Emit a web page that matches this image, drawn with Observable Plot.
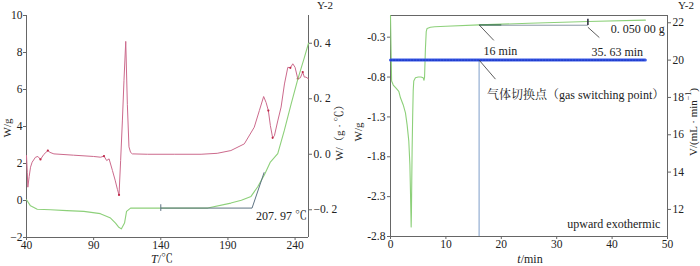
<!DOCTYPE html>
<html><head><meta charset="utf-8">
<script src="https://cdn.jsdelivr.net/npm/d3@7"></script>
<script src="https://cdn.jsdelivr.net/npm/@observablehq/plot@0.6"></script>
<style>
body{margin:0;background:#fff;}
#wrap{position:relative;width:700px;height:266px;overflow:hidden;background:#fff;}
#wrap svg{position:absolute;top:0;}
</style></head><body><div id="wrap"></div>
<script>
// ---------- Left panel data ----------
const leftXTicks = [40, 90, 140, 190, 240];
const leftYTicks = [-2, 0, 2, 4, 6, 8, 10];
const leftY2Ticks = [-0.2, 0.0, 0.2, 0.4];

const redT = [40, 40.6, 41, 42, 43, 44.2, 46.7, 48.5, 50.4, 52.9, 55.9, 57.5, 60.4, 75, 90, 95.2, 97.7, 99.7, 101.5, 104, 106, 107.7, 108.9, 110.1, 111.4, 112.6, 113.9, 115.1, 116.3, 117.5, 118.9, 130, 150, 170, 182, 192.2, 202.2, 209.6, 213.4, 216.6, 218.4, 220.1, 221.6, 223.3, 224.6, 227.1, 229.6, 232.1, 234.6, 236.5, 238.3, 240, 242, 243.9, 245.7, 246.9, 248.1, 249.9];
const redW = [2.43, 1.5, 0.72, 1.3, 1.8, 2.07, 2.34, 2.38, 2.22, 2.49, 2.7, 2.6, 2.52, 2.45, 2.38, 2.34, 2.4, 2.16, 2.25, 1.62, 1.1, 0.6, 0.3, 2.16, 4.3, 6.5, 8.6, 5.2, 2.9, 2.6, 2.52, 2.5, 2.5, 2.5, 2.55, 2.7, 3.06, 3.96, 4.86, 5.62, 5.3, 4.86, 4.05, 3.39, 3.5, 4.3, 5.05, 6.3, 7.2, 7.17, 7.39, 7.2, 6.58, 6.63, 6.94, 6.67, 6.67, 6.58];
const redDotT = [50.4, 55.9, 97.7, 108.9, 220.1, 223.3, 236.5, 242, 245.7];

const greenT = [40, 43, 48, 57.9, 70, 82.7, 95, 102.6, 106.3, 108.5, 110.6, 113, 114.5, 117.5, 140, 175, 192.2, 200, 207.2, 212.2, 217.1, 221.6, 227.1, 232, 237, 242, 246.9, 250];
const greenR = [-0.164, -0.186, -0.198, -0.2, -0.203, -0.206, -0.214, -0.23, -0.248, -0.262, -0.269, -0.248, -0.206, -0.194, -0.194, -0.194, -0.176, -0.166, -0.152, -0.117, -0.075, -0.028, 0.0025, 0.086, 0.18, 0.27, 0.348, 0.4];

const onsetStartT = 140, onsetT = 207.97, onsetLevel = -0.194;
const tangentEnd = {T: 217, R: -0.065};
const onsetLabel = "207. 97 ℃";

// ---------- Right panel data ----------
const rightXTicks = [0, 10, 20, 30, 40, 50];
const rightYTicks = [-0.3, -0.8, -1.3, -1.8, -2.3, -2.8];
const rightY2Ticks = [12, 14, 16, 18, 20, 22];

const massT = [0, 0.1, 0.2, 0.5, 1.0, 1.5, 1.8, 2.3, 2.7, 3.0, 3.3, 3.5, 3.6, 3.68, 3.73, 3.78, 3.84, 3.9, 4.0, 4.1, 4.2, 4.5, 5.0, 5.5, 5.9, 6.05, 6.15, 6.3, 6.45, 6.6, 7.2, 8, 10, 16, 25, 35.63, 46];
const massW = [-0.03, -0.45, -0.85, -0.9, -0.94, -0.98, -1.06, -1.15, -1.25, -1.4, -1.6, -1.9, -2.22, -2.5, -2.68, -2.5, -2.1, -1.72, -1.3, -0.97, -0.85, -0.81, -0.8, -0.8, -0.81, -0.84, -0.8, -0.45, -0.23, -0.19, -0.175, -0.17, -0.163, -0.146, -0.125, -0.104, -0.086];

const flowT = [0, 46];
const flowV = [20, 20];

const switchT = 16, endT = 35.63, baseW = -0.15;

// ---------- styling ----------
const FONT = '"Liberation Serif","Noto Serif CJK SC","Noto Sans CJK SC",serif';
const AX = "#666";
const GREEN = "#8dd07a";
const RED = "#cc6a8c";
const ANN = "#5d7282";
const TICKFS = 11.5;

const fmtSp = d => (d < 0 ? "−" : "") + Math.abs(d).toFixed(1).replace(".", ". ");
const fmtR = d => (d < 0 ? "-" : "") + Math.abs(d).toFixed(1);

const baseStyle = {fontFamily: FONT, fontSize: "11px", background: "transparent", color: "#222", overflow: "visible"};

// ===== Left panel, primary (W/g) =====
const LDIM = {width: 350, height: 266, marginLeft: 26, marginRight: 42, marginTop: 15, marginBottom: 29};
const redData = redT.map((t, i) => ({T: t, W: redW[i]}));
const redDots = redDotT.map(t => redData.find(d => d.T === t));
const A = Plot.plot({
  ...LDIM,
  style: baseStyle,
  x: {domain: [40, 250]},
  y: {domain: [-2, 10]},
  marks: [
    Plot.ruleX([40], {stroke: AX}),
    Plot.ruleX([250], {stroke: AX}),
    Plot.ruleY([-2], {stroke: AX}),
    Plot.axisX({ticks: leftXTicks, tickSize: 3, tickPadding: 0, label: null, stroke: AX, fontSize: TICKFS}),
    Plot.axisY({ticks: leftYTicks, tickSize: 3, tickPadding: 1, label: null, stroke: AX, fontSize: TICKFS}),
    Plot.line(redData, {x: "T", y: "W", stroke: RED, strokeWidth: 1}),
    Plot.dot(redDots, {x: "T", y: "W", r: 1.1, fill: "#c02848"})
  ]
});

// ===== Left panel, secondary (W/(g·℃)) =====
const greenData = greenT.map((t, i) => ({T: t, R: greenR[i]}));
const B = Plot.plot({
  ...LDIM,
  style: baseStyle,
  x: {domain: [40, 250], axis: null},
  y: {domain: [-0.3, 0.5]},
  marks: [
    Plot.axisY({anchor: "right", ticks: leftY2Ticks, tickFormat: fmtSp, tickSize: 3, tickPadding: 2, label: null, stroke: AX, fontSize: TICKFS}),
    Plot.line(greenData, {x: "T", y: "R", stroke: GREEN, strokeWidth: 1.1}),
    Plot.link([{x1: onsetStartT, x2: onsetT, y: onsetLevel}], {x1: "x1", x2: "x2", y1: "y", y2: "y", stroke: ANN, strokeWidth: 1}),
    Plot.link([{x1: onsetT, y1: onsetLevel, x2: tangentEnd.T, y2: tangentEnd.R}], {x1: "x1", y1: "y1", x2: "x2", y2: "y2", stroke: ANN, strokeWidth: 1}),
    Plot.ruleX([{x: onsetStartT, y1: onsetLevel - 0.012, y2: onsetLevel + 0.012}], {x: "x", y1: "y1", y2: "y2", stroke: ANN}),
    Plot.text([{x: onsetT, y: onsetLevel, t: onsetLabel}], {x: "x", y: "y", text: "t", textAnchor: "start", dx: 4, dy: 8, fontSize: 12, fill: "#222"})
  ]
});

// ===== Right panel, primary (W/g mass) =====
const RDIM = {width: 350, height: 266, marginLeft: 40, marginRight: 33, marginTop: 15, marginBottom: 30};
const massData = massT.map((t, i) => ({t, W: massW[i]}));
const W16 = massW[massT.indexOf(switchT)];
const W35 = massW[massT.indexOf(endT)];
const C = Plot.plot({
  ...RDIM,
  style: baseStyle,
  x: {domain: [0, 50]},
  y: {domain: [-2.8, -0.028]},
  marks: [
    Plot.frame({stroke: AX}),
    Plot.axisX({ticks: rightXTicks, tickSize: 3, tickPadding: 0, label: null, stroke: AX, fontSize: TICKFS}),
    Plot.axisY({ticks: rightYTicks, tickFormat: fmtR, tickSize: 3, tickPadding: 2, label: null, stroke: AX, fontSize: TICKFS}),
    Plot.line(massData, {x: "t", y: "W", stroke: GREEN, strokeWidth: 1.1}),
    Plot.link([{x1: switchT, x2: endT, y: baseW}], {x1: "x1", x2: "x2", y1: "y", y2: "y", stroke: "#8a98a4", strokeWidth: 1}),
    Plot.link([{x1: switchT, x2: switchT + 4, y: W16}], {x1: "x1", x2: "x2", y1: "y", y2: "y", stroke: "#3f7a50", strokeWidth: 1.2}),
    Plot.ruleX([{x: endT, y1: W35 - 0.05, y2: W35 + 0.03}], {x: "x", y1: "y1", y2: "y2", stroke: "#334", strokeWidth: 1.6}),
    Plot.link([{x1: switchT, y1: W16, x2: 18.65, y2: -0.34}], {x1: "x1", y1: "y1", x2: "x2", y2: "y2", stroke: "#333", strokeWidth: 0.8}),
    Plot.link([{x1: endT, y1: -0.175, x2: 37.7, y2: -0.305}], {x1: "x1", y1: "y1", x2: "x2", y2: "y2", stroke: "#333", strokeWidth: 0.8}),
    Plot.text([{x: 16.8, y: -0.47, s: "16 min"}], {x: "x", y: "y", text: "s", textAnchor: "start", fontSize: 12, fill: "#222"}),
    Plot.text([{x: 45.6, y: -0.49, s: "35. 63 min"}], {x: "x", y: "y", text: "s", textAnchor: "end", fontSize: 12, fill: "#222"}),
    Plot.text([{x: 49.5, y: -0.2, s: "0. 050 00 g"}], {x: "x", y: "y", text: "s", textAnchor: "end", fontSize: 12, fill: "#222"}),
    Plot.text([{x: 48.7, y: -2.65, s: "upward exothermic"}], {x: "x", y: "y", text: "s", textAnchor: "end", fontSize: 12, fill: "#222"})
  ]
});

// ===== Right panel, secondary (flow V) =====
const flowData = flowT.map((t, i) => ({t, V: flowV[i]}));
const flowMin = 10.55;
const D = Plot.plot({
  ...RDIM,
  style: baseStyle,
  x: {domain: [0, 50], axis: null},
  y: {domain: [flowMin, 22.39]},
  marks: [
    Plot.axisY({anchor: "right", ticks: rightY2Ticks, tickSize: 3, tickPadding: 2, label: null, stroke: AX, fontSize: TICKFS}),
    Plot.ruleX([switchT], {y1: flowV[0], y2: flowMin, stroke: "#a9bedb", strokeWidth: 1.5}),
    Plot.line(flowData, {x: "t", y: "V", stroke: "#3a5ae8", strokeWidth: 3}),
    Plot.line(flowData, {x: "t", y: "V", stroke: "#1a36c4", strokeWidth: 1.4, strokeDasharray: "1.5,1.5"}),
    Plot.link([{x1: switchT, y1: flowV[0], x2: 18.95, y2: 18.98}], {x1: "x1", y1: "y1", x2: "x2", y2: "y2", stroke: "#333", strokeWidth: 0.8}),
    Plot.text([{x: 17.4, y: 18.1, s: "气体切换点（gas switching point）"}], {x: "x", y: "y", text: "s", textAnchor: "start", fontSize: 12, fill: "#222"})
  ]
});

const wrap = document.getElementById("wrap");
[[A, 0], [B, 0], [C, 350], [D, 350]].forEach(([svg, left]) => {
  svg.style.left = left + "px";
  wrap.appendChild(svg);
});

// axis titles
function addText(svg, x, y, rot, parts, size) {
  const t = d3.select(svg).append("text")
    .attr("transform", `translate(${x},${y}) rotate(${rot})`)
    .attr("text-anchor", "middle")
    .attr("dominant-baseline", "middle")
    .attr("font-family", FONT)
    .attr("font-size", size || 12)
    .attr("fill", "#222");
  parts.forEach(p => {
    const s = t.append("tspan").text(p.s);
    if (p.italic) s.attr("font-style", "italic");
    if (p.sup) s.attr("baseline-shift", "super").attr("font-size", 8);
  });
}
addText(A, 7.5, 128, -90, [{s: "W/g"}], 11);
addText(A, 162, 259.5, 0, [{s: "T", italic: true}, {s: "/℃"}]);
addText(B, 340, 130, -90, [{s: "W/（g · ℃）"}], 11);
addText(B, 325, 6, 0, [{s: "Y-2"}], 11);
addText(C, 8.5, 132, -90, [{s: "W/g"}], 11);
addText(C, 180, 259.5, 0, [{s: "t", italic: true}, {s: "/min"}]);
addText(D, 344, 122, -90, [{s: "V/(mL · min"}, {s: "−1", sup: true}, {s: ")"}], 11);
addText(D, 336, 6, 0, [{s: "Y-2"}], 11);
</script></body></html>
